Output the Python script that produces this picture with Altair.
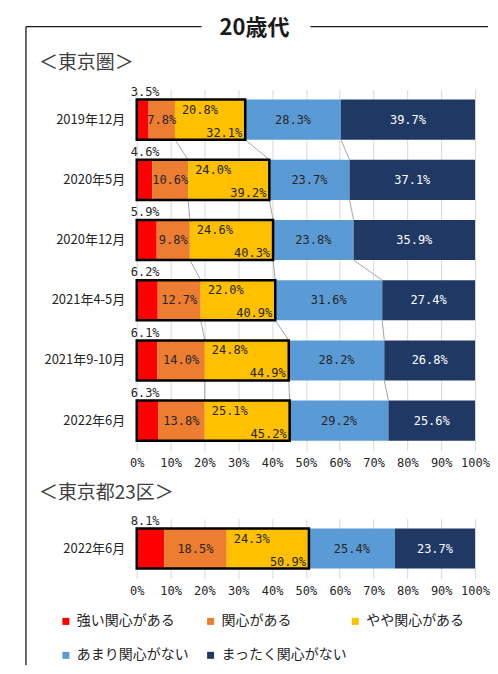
import altair as alt
import pandas as pd

# ---------------- data ----------------
periods = ["2019年12月", "2020年5月", "2020年12月", "2021年4-5月", "2021年9-10月", "2022年6月"]
series = ["強い関心がある", "関心がある", "やや関心がある", "あまり関心がない", "まったく関心がない"]
colors = ["#FF0000", "#ED7D31", "#FFC000", "#5B9BD5", "#203864"]

strong = [3.5, 4.6, 5.9, 6.2, 6.1, 6.3]
some = [7.8, 10.6, 9.8, 12.7, 14.0, 13.8]
slight = [20.8, 24.0, 24.6, 22.0, 24.8, 25.1]
little = [28.3, 23.7, 23.8, 31.6, 28.2, 29.2]
nothing = [39.7, 37.1, 35.9, 27.4, 26.8, 25.6]

ward_periods = ["2022年6月"]
ward_strong = [8.1]
ward_some = [18.5]
ward_slight = [24.3]
ward_little = [25.4]
ward_nothing = [23.7]

ticks = list(range(0, 101, 10))
main_title = "20歳代"
panel_titles = ["＜東京圏＞", "＜東京都23区＞"]

JP = "Noto Sans CJK JP"
MONO = "DejaVu Sans Mono"
TXT = "#262626"


def build(plist, cols):
    rows, info = [], []
    for i, p in enumerate(plist):
        vals = [c[i] for c in cols]
        total = sum(vals)
        cum = 0.0
        ends = []
        for s, v in zip(series, vals):
            st = cum / total * 100
            cum += v
            en = cum / total * 100
            rows.append(dict(period=p, series=s, start=st, end=en, mid=(st + en) / 2,
                             label=f"{v:.1f}%"))
            ends.append(en)
        c3 = vals[0] + vals[1] + vals[2]
        info.append(dict(period=p, zero=0.0, c2=ends[1], c3=ends[2], c4=ends[3],
                         c3label=f"{c3:.1f}%"))
    conn = []
    for i in range(len(plist) - 1):
        for k in ["c2", "c3", "c4"]:
            conn.append(dict(p_from=plist[i], p_to=plist[i + 1],
                             x_from=info[i][k], x_to=info[i + 1][k]))
    return pd.DataFrame(rows), pd.DataFrame(info), pd.DataFrame(conn)


xscale = alt.Scale(domain=[0, 100], nice=False)
cscale = alt.Scale(domain=series, range=colors)
xax = alt.Axis(title=None, values=ticks, labelExpr="datum.value + '%'", grid=True,
               gridColor="#d9d9d9", gridWidth=1, domain=False, ticks=False,
               labelOverlap=False, labelFlush=False, labelPadding=7, labelFont=MONO,
               labelFontSize=12, labelColor=TXT)


def X(field):
    return alt.X(field, scale=xscale, axis=xax, title=None)


def panel(plist, cols, height, ptitle, title_dy, legend, top=False):
    long_df, info_df, conn_df = build(plist, cols)
    yscale = alt.Scale(domain=plist, paddingInner=1 / 3, paddingOuter=1 / 6)
    yax = alt.Axis(title=None, ticks=False, domain=False, labelPadding=12, labelFont=JP,
                   labelFontSize=13, labelColor=TXT)

    def Y():
        return alt.Y("period:N", sort=plist, scale=yscale, axis=yax, title=None)

    base = alt.Chart(long_df)
    bars = base.mark_bar(strokeWidth=0).encode(
        x=X("start:Q"), x2="end:Q", y=Y(),
        color=alt.Color("series:N", scale=cscale, legend=legend),
    )
    mid_txt = base.mark_text(font=MONO, fontSize=12, color=TXT).encode(
        x=X("mid:Q"), y=Y(), text="label:N"
    ).transform_filter(alt.FieldOneOfPredicate(field="series", oneOf=[series[1], series[3]]))
    navy_txt = base.mark_text(font=MONO, fontSize=12, color="white").encode(
        x=X("mid:Q"), y=Y(), text="label:N"
    ).transform_filter(alt.datum.series == series[4])
    yel_txt = base.mark_text(font=MONO, fontSize=12, color=TXT, align="left", dx=7, dy=-10).encode(
        x=X("start:Q"), y=Y(), text="label:N"
    ).transform_filter(alt.datum.series == series[2])
    red_txt = base.mark_text(font=MONO, fontSize=12, color=TXT, align="left", dx=-6, dy=-28).encode(
        x=X("start:Q"), y=Y(), text="label:N"
    ).transform_filter(alt.datum.series == series[0])

    ib = alt.Chart(info_df)
    box = ib.mark_bar(fillOpacity=0, stroke="black", strokeWidth=2.5).encode(
        x=X("zero:Q"), x2="c3:Q", y=Y()
    )
    cum_txt = ib.mark_text(font=MONO, fontSize=12, color=TXT, align="right", dx=-3, dy=13).encode(
        x=X("c3:Q"), y=Y(), text="c3label:N"
    )

    layers = [bars]
    if len(conn_df):
        conn = alt.Chart(conn_df).mark_rule(color="#a6a6a6", strokeWidth=1).encode(
            x=X("x_from:Q"),
            x2="x_to:Q",
            y=alt.Y("p_from:N", sort=plist, scale=yscale, axis=yax, title=None, bandPosition=1),
            y2=alt.Y2("p_to:N", bandPosition=0),
        )
        layers.append(conn)
    layers += [box, mid_txt, navy_txt, yel_txt, red_txt, cum_txt]

    one = alt.Chart(pd.DataFrame({"t": [ptitle]}))
    ptxt = one.mark_text(font=JP, fontSize=19, color="#404040", align="left", baseline="middle").encode(
        x=alt.value(-98), y=alt.value(title_dy), text="t:N"
    )
    layers += [ptxt]
    if top:
        tt = alt.Chart(pd.DataFrame({"t": [main_title]}))
        ttxt = tt.mark_text(font=JP, fontSize=22, fontWeight="bold", color="#1a1a1a",
                            align="center", baseline="middle").encode(
            x=alt.value(118), y=alt.value(-62), text="t:N"
        )
        l1 = tt.mark_rule(color="#1a1a1a", strokeWidth=1.3).encode(
            x=alt.value(-111), x2=alt.value(65), y=alt.value(-63)
        )
        l2 = tt.mark_rule(color="#1a1a1a", strokeWidth=1.3).encode(
            x=alt.value(174), x2=alt.value(352), y=alt.value(-63)
        )
        frame = tt.mark_rule(color="#1a1a1a", strokeWidth=1.3).encode(
            x=alt.value(-111), y=alt.value(-63), y2=alt.value(577)
        )
        layers += [ttxt, l1, l2, frame]
    return alt.layer(*layers).properties(width=339, height=height)


legend = alt.Legend(title=None, orient="none", legendX=-78, legendY=96, columns=3,
                    direction="horizontal", gridAlign="all", columnPadding=1, rowPadding=20,
                    symbolType="square", symbolSize=49, symbolStrokeWidth=0, labelFont=JP,
                    labelFontSize=14, labelColor=TXT, labelOffset=4, labelLimit=0, padding=0)

p1 = panel(periods, [strong, some, slight, little, nothing], 362, panel_titles[0], -27, None, top=True)
p2 = panel(ward_periods, [ward_strong, ward_some, ward_slight, ward_little, ward_nothing], 60,
           panel_titles[1], -26, legend)

chart = alt.vconcat(p1, p2, spacing=68, bounds="flush").resolve_legend(color="independent").properties(
    padding={"left": 17, "top": 8, "right": 0, "bottom": 0}
).configure_view(stroke=None).configure_axis(labelOverlap=False)

chart.save("out.html", embed_options={"renderer": "svg", "actions": False})
